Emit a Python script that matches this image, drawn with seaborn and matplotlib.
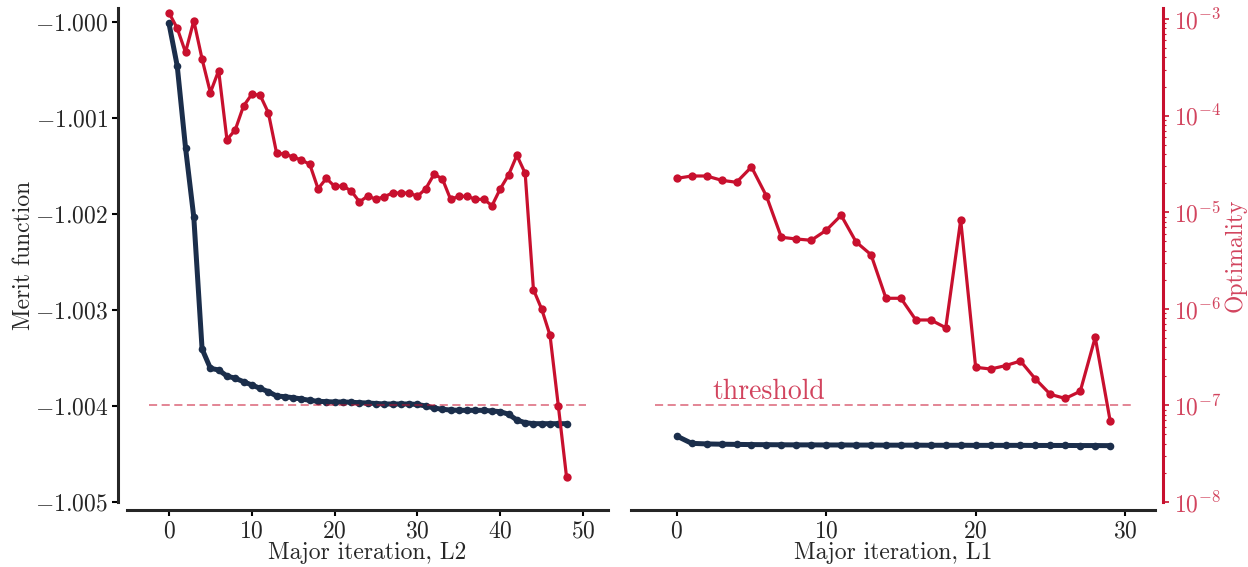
import numpy as np
import pandas as pd
import matplotlib
matplotlib.use("Agg")
import matplotlib.pyplot as plt
from matplotlib.ticker import FuncFormatter, LogLocator
import seaborn as sns

# ---------------- data ----------------
merit_l2 = [-1.0000135, -1.000458, -1.001309, -1.002034, -1.003406, -1.003607, -1.003625,
            -1.003688, -1.003711, -1.003747, -1.003781, -1.003816, -1.003851, -1.003896,
            -1.003903, -1.003914, -1.003927, -1.003941, -1.003951, -1.003955, -1.003958,
            -1.003958, -1.003961, -1.003966, -1.003969, -1.003974, -1.003979, -1.003979,
            -1.003979, -1.003979, -1.003984, -1.004000, -1.004021, -1.004034, -1.004042,
            -1.004045, -1.004045, -1.004045, -1.004045, -1.004052, -1.004059, -1.004086,
            -1.004146, -1.004174, -1.004184, -1.004184, -1.004184, -1.004184, -1.004184]
optim_l2 = [1.161e-3, 8.02e-4, 4.52e-4, 9.59e-4, 3.85e-4, 1.73e-4, 2.92e-4, 5.64e-5,
            7.10e-5, 1.256e-4, 1.66e-4, 1.63e-4, 1.07e-4, 4.07e-5, 4.00e-5, 3.72e-5,
            3.47e-5, 3.13e-5, 1.75e-5, 2.24e-5, 1.85e-5, 1.87e-5, 1.66e-5, 1.28e-5,
            1.47e-5, 1.36e-5, 1.45e-5, 1.58e-5, 1.58e-5, 1.58e-5, 1.46e-5, 1.75e-5,
            2.47e-5, 2.22e-5, 1.36e-5, 1.46e-5, 1.46e-5, 1.36e-5, 1.36e-5, 1.17e-5,
            1.75e-5, 2.43e-5, 3.88e-5, 2.53e-5, 1.58e-6, 9.9e-7, 5.32e-7, 9.93e-8, 1.80e-8]
merit_l1 = [-1.004313, -1.004389, -1.004395, -1.004398, -1.004400, -1.004402, -1.004403,
            -1.004404, -1.004405, -1.004405, -1.004406, -1.004406, -1.004407, -1.004407,
            -1.004408, -1.004408, -1.004408, -1.004409, -1.004409, -1.004409, -1.004410,
            -1.004410, -1.004410, -1.004410, -1.004411, -1.004411, -1.004411, -1.004412,
            -1.004412, -1.004413]
optim_l1 = [2.24e-5, 2.37e-5, 2.37e-5, 2.14e-5, 2.04e-5, 2.94e-5, 1.47e-5, 5.50e-6,
            5.28e-6, 5.12e-6, 6.50e-6, 9.29e-6, 4.92e-6, 3.63e-6, 1.285e-6, 1.285e-6,
            7.66e-7, 7.66e-7, 6.37e-7, 8.30e-6, 2.48e-7, 2.38e-7, 2.58e-7, 2.88e-7,
            1.875e-7, 1.30e-7, 1.18e-7, 1.40e-7, 5.07e-7, 6.90e-8]
iter_l2 = list(range(len(merit_l2)))
iter_l1 = list(range(len(merit_l1)))
threshold = 1e-7
xlabels = ["Major iteration, L2", "Major iteration, L1"]
ylabel_left = "Merit function"
ylabel_right = "Optimality"

# ---------------- style ----------------
sns.set_theme(style="ticks")
plt.rcParams["font.family"] = ["cmr10", "DejaVu Serif"]
plt.rcParams["mathtext.fontset"] = "cm"
plt.rcParams["axes.formatter.use_mathtext"] = True
plt.rcParams["axes.unicode_minus"] = True

NAVY = "#1b2e4b"
RED = "#c8102e"
RED_LIGHT = "#d2445e"

fig = plt.figure(figsize=(12.48, 5.67), dpi=100)
W, H = 1248, 567
bottom = 1 - 502 / H
height = (502 - 8) / H
ax1 = fig.add_axes([126.7 / W, bottom, (608 - 126.7) / W, height])
ax2 = fig.add_axes([630.7 / W, bottom, (1155 - 630.7) / W, height], sharey=ax1)
t1 = ax1.twinx()
t2 = ax2.twinx()

df_l2 = pd.DataFrame({"it": iter_l2, "merit": merit_l2, "opt": optim_l2})
df_l1 = pd.DataFrame({"it": iter_l1, "merit": merit_l1, "opt": optim_l1})

for ax, tw, df in [(ax1, t1, df_l2), (ax2, t2, df_l1)]:
    sns.lineplot(data=df, x="it", y="merit", ax=ax, color=NAVY, lw=3.6,
                 marker="o", markersize=5.5, markeredgewidth=0, zorder=3)
    sns.lineplot(data=df, x="it", y="opt", ax=tw, color=RED, lw=2.3,
                 marker="o", markersize=6, markeredgewidth=0, zorder=3)
    tw.set_yscale("log")
    n = df["it"].iloc[-1] - df["it"].iloc[0]
    x0 = df["it"].iloc[0] - 0.05 * n
    x1 = df["it"].iloc[-1] + 0.05 * n
    tw.hlines(threshold, x0, x1, colors=RED, alpha=0.55, linestyles=(0, (4.5, 2.5)),
              lw=1.3, zorder=2)

ax1.set_xlim(-5.1, 53.0)
ax2.set_xlim(-3.08, 32.0)
ax1.set_ylim(-1.005, -1.000 + 14 / 96000)
for tw in (t1, t2):
    tw.set_ylim(1e-8, 10 ** (-3 + 11 / 96.6))

ax1.set_yticks([-1.000, -1.001, -1.002, -1.003, -1.004, -1.005])
ax1.yaxis.set_major_formatter(FuncFormatter(lambda v, p: r"$%.3f$" % v))
ax1.set_xticks([0, 10, 20, 30, 40, 50])
ax2.set_xticks([0, 10, 20, 30])
for ax in (ax1, ax2):
    ax.xaxis.set_major_formatter(FuncFormatter(lambda v, p: r"$%d$" % v))

FS = 17
for ax, lab in [(ax1, xlabels[0]), (ax2, xlabels[1])]:
    ax.set_xlabel(lab, fontsize=FS, labelpad=-1)
    ax.tick_params(axis="both", labelsize=FS, width=1.5, length=4, color="black")
    for s in ("top", "right"):
        ax.spines[s].set_visible(False)
    ax.spines["bottom"].set_linewidth(2.2)
    ax.spines["bottom"].set_position(("outward", 6))
    ax.set_ylabel("")
ax1.spines["left"].set_linewidth(2.2)
ax1.spines["left"].set_position(("outward", 6))
ax1.set_ylabel(ylabel_left, fontsize=FS, labelpad=0)
ax2.spines["left"].set_visible(False)
ax2.tick_params(axis="y", left=False, labelleft=False)

for s in ("top", "left", "bottom", "right"):
    t1.spines[s].set_visible(False)
t1.tick_params(axis="y", which="both", right=False, labelright=False)
t1.set_ylabel("")

for s in ("top", "left", "bottom"):
    t2.spines[s].set_visible(False)
t2.spines["right"].set_color(RED)
t2.spines["right"].set_linewidth(2.2)
t2.spines["right"].set_position(("outward", 6))
t2.yaxis.set_major_locator(LogLocator(base=10, numticks=10))
t2.yaxis.set_minor_locator(LogLocator(base=10, subs=np.arange(2, 10), numticks=20))
t2.tick_params(axis="y", which="major", colors=RED_LIGHT, labelsize=FS, length=4, width=1.2)
t2.tick_params(axis="y", which="minor", colors=RED, length=2.5, width=0.8)
t2.tick_params(axis="y", which="both", color=RED)
t2.set_ylabel(ylabel_right, fontsize=FS, color=RED_LIGHT, labelpad=2)

t2.text(2.4, 1.02e-7, "threshold", color=RED_LIGHT, fontsize=20,
        ha="left", va="bottom")

fig.savefig("out.png", dpi=100)
